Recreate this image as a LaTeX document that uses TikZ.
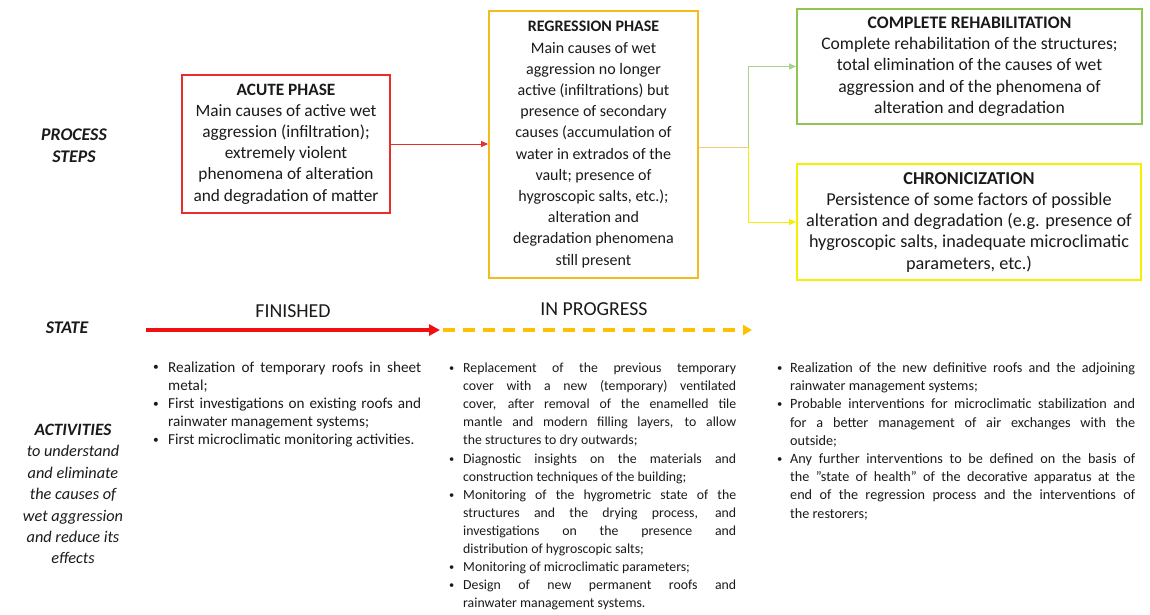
\documentclass[tikz,border=0pt]{standalone}
\usepackage{fontspec}
\usepackage{graphicx}
\setmainfont{Carlito}
\usetikzlibrary{arrows.meta}
\definecolor{cRed}{HTML}{E62E2D}
\definecolor{cGold}{HTML}{F2BC1A}
\definecolor{cGreen}{HTML}{8DC653}
\definecolor{cYellow}{HTML}{F5F000}
\definecolor{cLineGold}{HTML}{F5C879}
\definecolor{cLineGreen}{HTML}{A9D18E}
\definecolor{cStateRed}{HTML}{F01010}
\definecolor{cStateGold}{HTML}{FFC000}
\definecolor{cText}{HTML}{1A1A1A}
\newlength{\bind}
\newcommand{\bitem}[1]{\noindent\hangindent=\bind\hangafter=1\makebox[\bind][l]{\hspace{1pt}\raisebox{0.15ex}{\scalebox{0.75}{\textbullet}}}#1\par}
\newcommand{\sq}{\symbol{"22}}
\hbadness=10000
\tikzset{
  phasebox/.style={draw, line width=1.8pt, align=center, inner sep=0pt, text=cText},
  sidelabel/.style={align=center, text=cText, font=\fontsize{17.8}{21.5}\selectfont\bfseries\itshape},
  statelabel/.style={text=cText, font=\fontsize{19.8}{22}\selectfont},
  actlist/.style={anchor=base west, inner sep=0pt, align=justify, text=cText},
  conn/.style={line width=1pt, -{Triangle[length=7pt,width=6pt]}},
}
\begin{document}
\begin{tikzpicture}[x=1pt,y=-1pt]
\useasboundingbox (0,0) rectangle (1150,614);
% phase boxes
\node[phasebox, draw=cRed, minimum width=208pt, minimum height=138pt,
  font=\fontsize{17.3}{21.2}\selectfont] (acute) at (286,144)
  {\textbf{ACUTE PHASE}\\Main causes of active wet\\aggression (infiltration);\\extremely violent\\phenomena of alteration\\and degradation of matter};
\node[phasebox, draw=cGold, minimum width=209pt, minimum height=267pt,
  font=\fontsize{16}{21.2}\selectfont] (regr) at (593.5,144.5)
  {\textbf{REGRESSION PHASE}\\Main causes of wet\\aggression no longer\\active (infiltrations) but\\presence of secondary\\causes (accumulation of\\water in extrados of the\\vault; presence of\\hygroscopic salts, etc.);\\alteration and\\degradation phenomena\\still present};
\node[phasebox, draw=cGreen, minimum width=345pt, minimum height=115pt,
  font=\fontsize{17.6}{21.25}\selectfont] (rehab) at (969.5,66.5)
  {\textbf{COMPLETE REHABILITATION}\\Complete rehabilitation of the structures;\\total elimination of the causes of wet\\aggression and of the phenomena of\\alteration and degradation};
\node[phasebox, draw=cYellow, minimum width=344pt, minimum height=116pt,
  font=\fontsize{18.2}{21.25}\selectfont] (chron) at (969,222)
  {\textbf{CHRONICIZATION}\\Persistence of some factors of possible\\alteration and degradation (e.g. presence of\\hygroscopic salts, inadequate microclimatic\\parameters, etc.)};
% connectors
\draw[conn, draw=cRed] (acute.east) -- (acute.east -| regr.west);
\coordinate (split) at (748,147);
\draw[line width=1pt, cLineGold] (regr.east |- split) -- (split);
\draw[conn, draw=cLineGreen] (split) |- (rehab.west);
\draw[conn, draw=cYellow] (split) |- (chron.west);
% side labels
\node[sidelabel] (lproc) at (74,145.5) {PROCESS\\STEPS};
\node[sidelabel] (lstate) at (67,328) {STATE};
\node[sidelabel, font=\fontsize{16.3}{21.4}\selectfont\itshape] (lact) at (73,494)
  {{\fontsize{17.3}{21.4}\selectfont\textbf{ACTIVITIES}}\\to understand\\and eliminate\\the causes of\\wet aggression\\and reduce its\\effects};
% state arrows
\coordinate (s0) at (146,330);
\coordinate (s1) at (440,330);
\coordinate (s1b) at (443,330);
\coordinate (s2) at (752,330);
\draw[line width=3.6pt, cStateRed, -{Triangle[length=11pt,width=11pt]}] (s0) -- (s1);
\draw[line width=3.6pt, cStateGold, dash pattern=on 12pt off 8pt, -{Triangle[length=9pt,width=10pt]}] (s1b) -- (s2);
\node[statelabel] (tfin) at (293,311) {FINISHED};
\node[statelabel] (tprog) at (594,309) {IN PROGRESS};
% activity lists
\node[actlist, text width=269pt, font=\fontsize{15.2}{18.15}\selectfont] (act1) at (152,372)
  {\setlength{\bind}{16pt}%
   \bitem{Realization of temporary roofs in sheet\linebreak metal;}
   \bitem{First investigations on existing roofs and\linebreak rainwater management systems;}
   \bitem{First microclimatic monitoring activities.}};
\node[actlist, text width=288pt, font=\fontsize{13.8}{18.1}\selectfont] (act2) at (448,372.5)
  {\setlength{\bind}{15pt}%
   \bitem{Replacement of the previous temporary\linebreak cover with a new (temporary) ventilated\linebreak cover, after removal of the enamelled tile\linebreak mantle and modern filling layers, to allow\linebreak the structures to dry outwards;}
   \bitem{Diagnostic insights on the materials and\linebreak construction techniques of the building;}
   \bitem{Monitoring of the hygrometric state of the\linebreak structures and the drying process, and\linebreak investigations on the presence and\linebreak distribution of hygroscopic salts;}
   \bitem{Monitoring of microclimatic parameters;}
   \bitem{Design of new permanent roofs and\linebreak rainwater management systems.}};
\node[actlist, text width=359pt, font=\fontsize{14.2}{18.2}\selectfont] (act3) at (776,372.5)
  {\setlength{\bind}{14pt}%
   \bitem{Realization of the new definitive roofs and the adjoining\linebreak rainwater management systems;}
   \bitem{Probable interventions for microclimatic stabilization and\linebreak for a better management of air exchanges with the\linebreak outside;}
   \bitem{Any further interventions to be defined on the basis of\linebreak the \sq state of health\sq{} of the decorative apparatus at the\linebreak end of the regression process and the interventions of\linebreak the restorers;}};
\end{tikzpicture}
\end{document}
